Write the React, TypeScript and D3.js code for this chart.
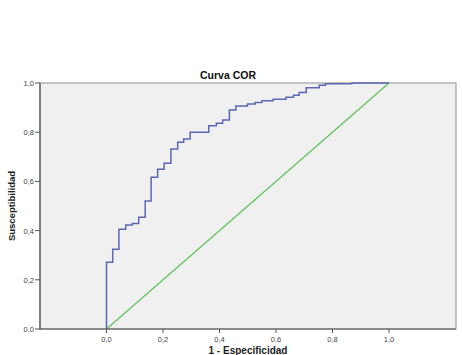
import * as d3 from "d3";

// ROC curve corners: 1 - specificity (fpr) vs sensitivity (tpr)
const fpr = [
  0, 0, 0.022, 0.044, 0.068, 0.091, 0.114, 0.137, 0.158, 0.181, 0.204, 0.228,
  0.252, 0.273, 0.296, 0.362, 0.389, 0.411, 0.435, 0.458, 0.499, 0.526, 0.55,
  0.59, 0.635, 0.662, 0.682, 0.707, 0.753, 0.775, 0.868, 1,
];
const tpr = [
  0, 0.271, 0.324, 0.405, 0.423, 0.429, 0.454, 0.52, 0.617, 0.649, 0.674, 0.732,
  0.759, 0.772, 0.8, 0.826, 0.836, 0.85, 0.89, 0.906, 0.915, 0.921, 0.928,
  0.934, 0.942, 0.95, 0.961, 0.981, 0.991, 0.997, 1, 1,
];
const refLine = [0, 1];
const ticks = [0, 0.2, 0.4, 0.6, 0.8, 1];

const W = 462;
const H = 355;
const plot = { left: 40, right: 456, top: 83, bottom: 329 };

const fmt = (v: number) => v.toFixed(1).replace(".", ",");

export default function App() {
  const x = d3.scaleLinear().domain([0, 1]).range([106.5, 389]);
  const y = d3.scaleLinear().domain([0, 1]).range([plot.bottom, plot.top]);

  const pts = fpr.map((f, i) => [f, tpr[i]] as [number, number]);
  const roc = d3
    .line<[number, number]>()
    .x((d) => x(d[0]))
    .y((d) => y(d[1]))
    .curve(d3.curveStepAfter)(pts);
  const diag = d3
    .line<number>()
    .x((d) => x(d))
    .y((d) => y(d))(refLine);

  const font = "'Liberation Sans', Arial, sans-serif";

  return (
    <svg
      width={W}
      height={H}
      style={{ position: "absolute", left: 0, top: 0, background: "#fff" }}
      fontFamily={font}
    >
      <rect
        x={plot.left}
        y={plot.top}
        width={plot.right - plot.left}
        height={plot.bottom - plot.top}
        fill="#f0f0f0"
        stroke="#a0a0a0"
        strokeWidth={1.2}
      />
      <path d={diag ?? ""} fill="none" stroke="#5cc25c" strokeWidth={1.2} />
      <path d={roc ?? ""} fill="none" stroke="#5c67b3" strokeWidth={1.5} />

      {/* axes */}
      <line x1={plot.left} x2={plot.left} y1={plot.top} y2={plot.bottom} stroke="#555" strokeWidth={1.2} />
      <line x1={plot.left} x2={plot.right} y1={plot.bottom} y2={plot.bottom} stroke="#555" strokeWidth={1.2} />

      {ticks.map((t) => (
        <g key={"y" + t}>
          <line x1={plot.left - 5} x2={plot.left} y1={y(t)} y2={y(t)} stroke="#555" />
          <text x={plot.left - 6} y={y(t) + 3} fontSize={7.5} textAnchor="end" fill="#444">
            {fmt(t)}
          </text>
        </g>
      ))}
      {ticks.map((t) => (
        <g key={"x" + t}>
          <line x1={x(t)} x2={x(t)} y1={plot.bottom} y2={plot.bottom + 4} stroke="#555" />
          <text x={x(t)} y={plot.bottom + 13} fontSize={7.5} textAnchor="middle" fill="#444">
            {fmt(t)}
          </text>
        </g>
      ))}

      <text x={228} y={79} fontSize={10.5} fontWeight="bold" textAnchor="middle" fill="#111">
        Curva COR
      </text>
      <text
        transform={`translate(15,${(plot.top + plot.bottom) / 2}) rotate(-90)`}
        fontSize={9.5}
        fontWeight="bold"
        textAnchor="middle"
        fill="#222"
      >
        Susceptibilidad
      </text>
      <text x={(plot.left + plot.right) / 2} y={354} fontSize={10} fontWeight="bold" textAnchor="middle" fill="#222">
        1 - Especificidad
      </text>
    </svg>
  );
}
